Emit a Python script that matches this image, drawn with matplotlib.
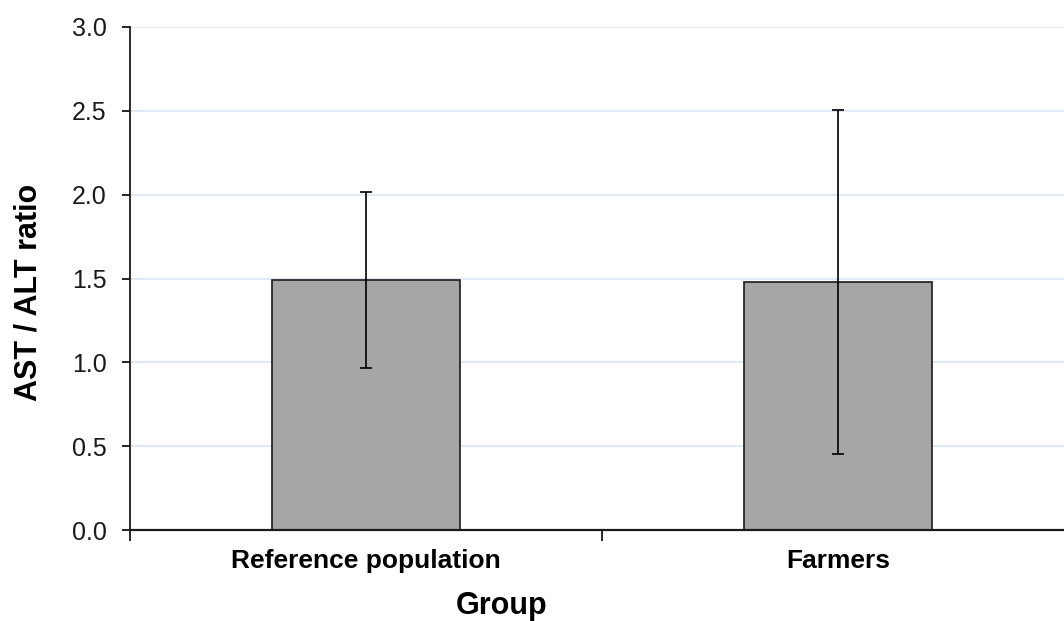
import matplotlib.pyplot as plt
import numpy as np

groups = ['Reference population', 'Farmers']
ratio_mean = [1.49, 1.48]
ratio_sd = [0.525, 1.025]
y_ticks = [0.0, 0.5, 1.0, 1.5, 2.0, 2.5, 3.0]

plt.rcParams['font.family'] = ['Liberation Sans', 'DejaVu Sans']

fig = plt.figure(figsize=(10.64, 6.21), dpi=100)
ax = fig.add_axes([130 / 1064, 91 / 621, 944 / 1064, 503 / 621])

x = np.arange(len(groups))
ax.bar(x, ratio_mean, width=0.4, color='#a6a6a6', edgecolor='#1a1a1a',
       linewidth=1.2, zorder=2)
ax.errorbar(x, ratio_mean, yerr=ratio_sd, fmt='none', ecolor='black',
            elinewidth=1.2, capsize=4.5, capthick=1.2, zorder=3)

ax.set_xlim(-0.5, 1.5)
ax.set_ylim(0, 3.0)
ax.set_yticks(y_ticks)
ax.set_yticklabels([f'{v:.1f}' for v in y_ticks], fontsize=18, color='#1a1a1a')
ax.yaxis.grid(True, color='#dce6f2', linewidth=1.3, zorder=0)
ax.set_axisbelow(True)

# category boundaries get the tick marks, names sit in between
ax.set_xticks([-0.5, 0.5, 1.5])
ax.set_xticklabels([])
ax.set_xticks(x, minor=True)
ax.set_xticklabels(groups, minor=True, fontsize=19, fontweight='bold')
ax.tick_params(axis='x', which='minor', length=0, pad=14)
ax.tick_params(axis='x', which='major', length=8, width=1.2, direction='out')
ax.tick_params(axis='y', length=6, width=1.2, direction='out', pad=11)

for side in ['top', 'right']:
    ax.spines[side].set_visible(False)
ax.spines['left'].set_linewidth(1.3)
ax.spines['bottom'].set_linewidth(1.6)
ax.spines['left'].set_color('#1a1a1a')
ax.spines['bottom'].set_color('#1a1a1a')

ax.set_xlabel('Group', fontsize=22, fontweight='bold')
ax.set_ylabel('AST / ALT ratio', fontsize=22, fontweight='bold')
ax.xaxis.set_label_coords(372 / 944, -0.121)
ax.yaxis.set_label_coords(-0.092, 0.472)

fig.savefig('out.png', dpi=100)
